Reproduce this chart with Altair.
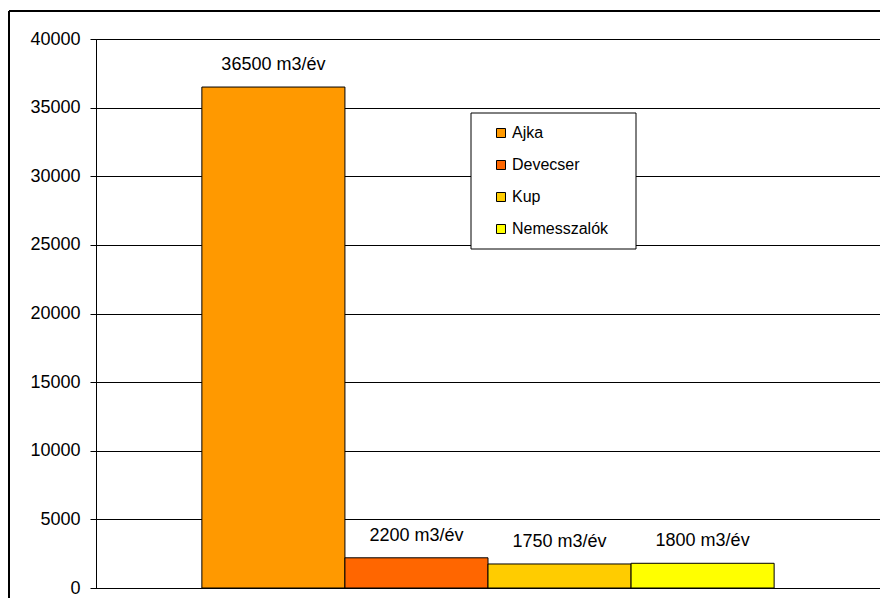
import altair as alt
import pandas as pd

towns = ["Ajka", "Devecser", "Kup", "Nemesszalók"]
values = [36500, 2200, 1750, 1800]
labels = ["36500 m3/év", "2200 m3/év", "1750 m3/év", "1800 m3/év"]
colors = ["#FF9900", "#FF6600", "#FFCC00", "#FFFF00"]
y_ticks = [0, 5000, 10000, 15000, 20000, 25000, 30000, 35000, 40000]

df = pd.DataFrame({"town": towns, "value": values, "label": labels})
FONT = "Liberation Sans"

x_enc = alt.X("town:N", sort=towns,
              scale=alt.Scale(paddingInner=0, paddingOuter=0.74),
              axis=alt.Axis(labels=False, ticks=False, title=None, domain=True,
                            domainColor="black"))
y_scale = alt.Scale(domain=[0, 40000], nice=False)

bars = alt.Chart(df).mark_bar(stroke="black", strokeWidth=1).encode(
    x=x_enc,
    y=alt.Y("value:Q", scale=y_scale,
            axis=alt.Axis(values=y_ticks, title=None, grid=True, gridColor="black",
                          gridWidth=1, gridOpacity=1, domainColor="black",
                          tickColor="black", tickSize=6, labelPadding=10,
                          labelFontSize=18, labelColor="black", labelFont=FONT,
                          format="d")),
    color=alt.Color("town:N", sort=towns,
                    scale=alt.Scale(domain=towns, range=colors),
                    legend=alt.Legend(orient="none", legendX=397, legendY=86,
                                      title=None, symbolType="square",
                                      symbolSize=81, symbolStrokeColor="black",
                                      symbolStrokeWidth=1, labelFontSize=16,
                                      labelFont=FONT, labelColor="black",
                                      labelOffset=3, rowPadding=16, padding=0,
                                      strokeColor="transparent")),
)

texts = alt.Chart(df).mark_text(dy=-22, baseline="middle", align="center",
                                fontSize=18, font=FONT, color="black").encode(
    x=alt.X("town:N", sort=towns),
    y=alt.Y("value:Q", scale=y_scale),
    text="label:N",
)

one = pd.DataFrame({"a": [0]})
legend_box = alt.Chart(one).mark_rect(fill="white", stroke="black", strokeWidth=1).encode(
    x=alt.value(375), x2=alt.value(540), y=alt.value(74), y2=alt.value(210))
frame_left = alt.Chart(one).mark_rule(color="black", strokeWidth=2).encode(
    x=alt.value(-87), y=alt.value(-28), y2=alt.value(580))
frame_top = alt.Chart(one).mark_rule(color="black", strokeWidth=2).encode(
    x=alt.value(-87), x2=alt.value(800), y=alt.value(-28))

chart = alt.layer(bars, texts, legend_box, frame_left, frame_top).properties(
    width=784, height=549,
    autosize=alt.AutoSizeParams(type="none"),
    padding={"left": 88, "top": 31, "right": 0, "bottom": 10},
    background="white",
).configure_view(stroke="black", strokeWidth=1)

chart.save("out.html", embed_options={"renderer": "svg", "actions": False})
